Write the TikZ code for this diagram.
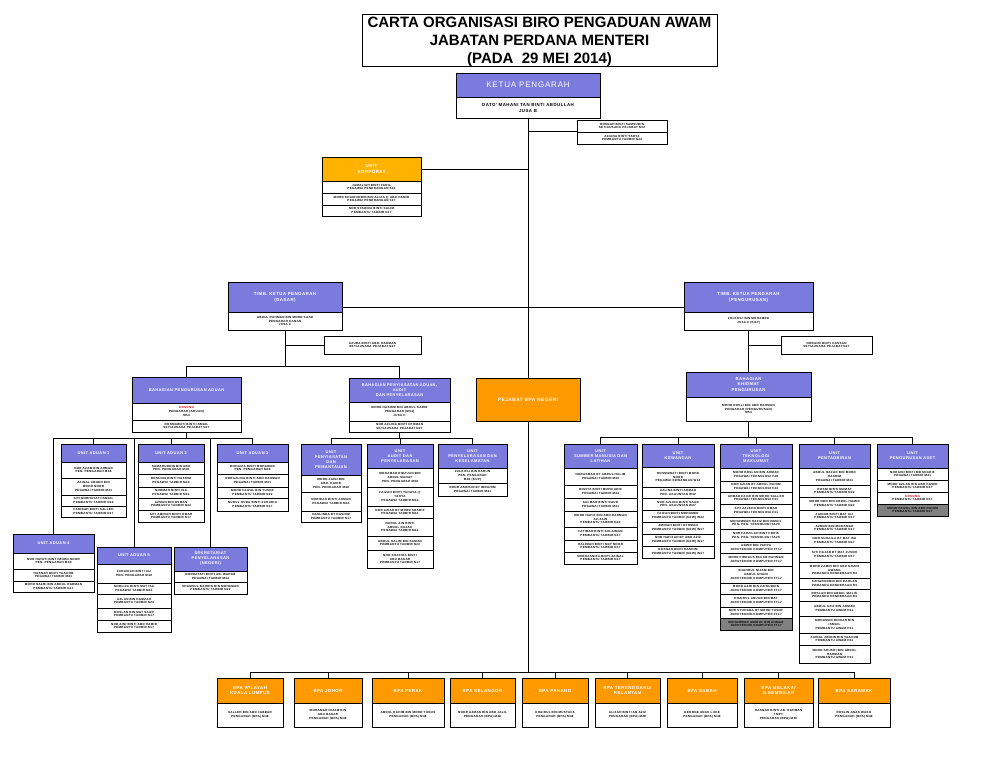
\documentclass[tikz,border=0pt]{standalone}
\usepackage{fontspec}
\setmainfont{Liberation Sans}
\newfontfamily\spc[LetterSpace=10]{Liberation Sans}
\definecolor{pur}{HTML}{7B7BDD}
\definecolor{org}{HTML}{FF9900}
\definecolor{gold}{HTML}{FFB300}
\definecolor{cellgray}{HTML}{808080}
\definecolor{kred}{HTML}{CC0000}
\tikzset{
 hd/.style={draw=black,line width=0.7pt,text=white,align=center,inner sep=0.4pt,font=\spc\bfseries\fontsize{4.0}{5.0}\selectfont},
 rw/.style={draw=black,line width=0.7pt,fill=white,align=center,inner sep=0.3pt,font=\spc\bfseries\fontsize{3.0}{3.8}\selectfont},
 conn/.style={draw=black,line width=0.9pt}
}
\newcommand{\Hd}[7]{\node[hd,#6,minimum width={#4-#2},minimum height={#5-#3}] (#1) at ({(#2+#4)/2},{(#3+#5)/2}) {#7};}
\newcommand{\Rows}[4]{\foreach \ya/\yb/\tx [count=\ii] in {#4} {\node[rw,minimum width={#3-#2},minimum height={\yb-\ya}] (#1r\ii) at ({(#2+#3)/2},{(\ya+\yb)/2}) {\tx};}}
\newcommand{\Rg}[6]{\node[rw,fill=cellgray,minimum width={#4-#2},minimum height={#5-#3}] (#1) at ({(#2+#4)/2},{(#3+#5)/2}) {#6};}
\begin{document}
\begin{tikzpicture}[x=1pt,y=-1pt]
\useasboundingbox[fill=white] (0,0) rectangle (1008,756);
% title
\node[draw,line width=0.8pt,minimum width=355,minimum height=52,inner sep=0pt] (title) at (539.5,40) {};
\node[align=center,inner sep=0pt,font=\bfseries\fontsize{15}{18}\selectfont] (titletext) at (539.5,41.8) {CARTA ORGANISASI BIRO PENGADUAN AWAM\\JABATAN PERDANA MENTERI\\(PADA \ 29 MEI 2014)};
% ketua
\Hd{ketua}{456}{73}{600}{97}{fill=pur,font=\spc\fontsize{8}{9}\selectfont}{KETUA PENGARAH}
\node[rw,minimum width=144,minimum height=21,font=\spc\bfseries\fontsize{4.4}{6}\selectfont] (ketuaR) at (528,107.5) {DATO' MAHANI TAN BINTI ABDULLAH\\JUSA B};
\Rows{side1}{577}{667}{120/132/{ROSNAH BINTI SAMSUDIN\\SETIAUSAHA PEJABAT N32},132/144/{AZIANA BINTI YAHYA\\PEMBANTU TADBIR N22}}
% unit korporat
\Hd{korp}{322}{157}{421}{181}{fill=gold,font=\spc\bfseries\fontsize{4.4}{6}\selectfont}{UNIT\\KORPORAT}
\Rows{korp}{322}{421}{181/193/{JAMALIAH BINTI FADIL\\PEGAWAI PENERANGAN S41},193/205/{MOHD KHAIRUDDIN BIN ALIAS @ ABD HAMID\\PEGAWAI PENERANGAN S27},205/216/{NOR SYAHIDA BINTI SALIM\\PEMBANTU TADBIR N17}}
% TKP dasar
\Hd{dasar}{228}{282}{342}{312}{fill=pur,font=\spc\bfseries\fontsize{4.4}{6}\selectfont}{TIMB. KETUA PENGARAH\\(DASAR)}
\Rows{dasar}{228}{342}{312/330/{ABDUL RAHMAN BIN MOHD SAAD\\PENGARAH KANAN\\JUSA C}}
\Rows{side2}{324}{421}{336/354/{AZURA BINTI ABD. RAHMAN\\SETIAUSAHA PEJABAT N27}}
% TKP pengurusan
\Hd{peng}{684}{282}{813}{312}{fill=pur,font=\spc\bfseries\fontsize{4.4}{6}\selectfont}{TIMB. KETUA PENGARAH\\(PENGURUSAN)}
\Rows{peng}{684}{813}{312/330/{ZULKIFLI BIN MOHAMED\\JUSA C (KUP)}}
\Rows{side3}{781}{872}{336/354/{NORAINI BINTI HASSAN\\SETIAUSAHA PEJABAT N27}}
% bahagian
\Hd{bpa}{132}{377}{241}{403}{fill=pur,font=\spc\bfseries\fontsize{4.0}{5}\selectfont}{BAHAGIAN PENGURUSAN ADUAN}
\Rows{bpa}{132}{241}{403/420/{\textcolor{kred}{KOSONG}\\PENGARAH (ADUAN)\\M54},420/432/{ROSMAWATI BINTI ISMAIL\\SETIAUSAHA PEJABAT N27}}
\Hd{bpm}{349}{378}{450}{402}{fill=pur,font=\spc\bfseries\fontsize{3.9}{5}\selectfont}{BAHAGIAN PENYIASATAN ADUAN,\\AUDIT\\DAN PENYELARASAN}
\Rows{bpm}{349}{450}{402/421/{MOHD HASHIM BIN ABDUL KADIR\\PENGARAH (M54)\\JUSA C},421/432/{NOR AZLINA BINTI OTHMAN\\SETIAUSAHA PEJABAT N27}}
\Hd{pej}{476}{378}{580}{421}{fill=org,font=\spc\bfseries\fontsize{4.8}{6}\selectfont}{PEJABAT BPA NEGERI}
\Hd{bkp}{686}{372}{811}{397}{fill=pur,font=\spc\bfseries\fontsize{4.2}{5.4}\selectfont}{BAHAGIAN\\KHIDMAT\\PENGURUSAN}
\Rows{bkp}{686}{811}{397/421/{MOHD ROSLI BIN ABD RAHMAN\\PENGARAH (PENGURUSAN)\\M54}}
% left units
\Hd{ua1}{61}{444}{126}{462}{fill=pur}{UNIT ADUAN 1}
\Rows{ua1}{61}{126}{462/478/{NOR AZAM BIN AHMAD\\PEN. PENGARAH M48},478/495/{ZAINAL ABIDIN BIN\\MOHD NOOR\\PEGAWAI TADBIR M41},495/506/{SITI NORHAYATI ISMAIL\\PEMBANTU TADBIR N22},506/517/{FARIDAH BINTI SALLEH\\PEMBANTU TADBIR N17}}
\Hd{ua2}{138}{444}{204}{462}{fill=pur}{UNIT ADUAN 2}
\Rows{ua2}{138}{204}{462/474/{KAMARUDDIN BIN ABU\\PEN. PENGARAH M48},474/487/{ROSLINA BINTI HASHIM\\PEGAWAI TADBIR M44},487/498/{NORMAH BINTI ISA\\PEGAWAI TADBIR M41},498/510/{AZMAN BIN OSMAN\\PEMBANTU TADBIR N22},510/522/{SITI AMINAH BINTI OMAR\\PEMBANTU TADBIR N17}}
\Hd{ua3}{217}{444}{288}{462}{fill=pur}{UNIT ADUAN 3}
\Rows{ua3}{217}{288}{462/474/{ROHAIZA BINTI MOHAMAD\\PEN. PENGARAH M48},474/487/{NORAZLINA BINTI ABD RAHMAN\\PEGAWAI TADBIR M41},487/498/{MOHD FAIZAL BIN YUSOF\\PEMBANTU TADBIR N22},498/511/{NURUL HUDA BINTI ZAKARIA\\PEMBANTU TADBIR N17}}
\Hd{ua4}{13}{534}{94}{553}{fill=pur}{UNIT ADUAN 4}
\Rows{ua4}{13}{94}{553/569/{NOR HAYATI BINTI MOHD NOOR\\PEN. PENGARAH M48},569/581/{HASNAH BINTI YAACOB\\PEGAWAI TADBIR M41},581/592/{MOHD NAZRI BIN ABDUL RAHMAN\\PEMBANTU TADBIR N17}}
\Hd{ua5}{97}{547}{171}{564}{fill=pur}{UNIT ADUAN 5}
\Rows{ua5}{97}{171}{564/583/{ZURAIDAH BINTI ALI\\PEN. PENGARAH M48},583/594/{NORLIZA BINTI MAT ISA\\PEGAWAI TADBIR M41},594/608/{AZLAN BIN HAMZAH\\PEMBANTU TADBIR N22},608/620/{ROSLAN BIN MAT SAAD\\PEMBANTU TADBIR N17},620/632/{NOR AINI BINTI ABD HAMID\\PEMBANTU TADBIR N17}}
\Hd{sek}{174}{547}{247}{571}{fill=pur}{SEKRETARIAT\\PENYELARASAN\\(NEGERI)}
\Rows{sek}{174}{247}{571/582/{NORHAYATI BINTI AB. WAHAB\\PEGAWAI TADBIR M44},582/594/{SHAMSUL BAHRIN BIN MOHAMAD\\PEMBANTU TADBIR N22}}
% middle units
\Hd{ma}{301}{444}{361}{475}{fill=pur}{UNIT\\PENYIASATAN\\DAN\\PEMANTAUAN}
\Rows{ma}{301}{361}{475/492/{MOHD ZAINI BIN\\ABD. KADIR\\PEN. PENGARAH M48},492/511/{NORIDAH BINTI AHMAD\\PEGAWAI TADBIR M41},511/522/{HASLINDA BT HASHIM\\PEMBANTU TADBIR N17}}
\Hd{mb}{367}{444}{433}{468}{fill=pur}{UNIT\\AUDIT DAN\\PENYELARASAN}
\Rows{mb}{367}{433}{468/487/{MOHAMAD RIDZUAN BIN\\ABDUL MANAF\\PEN. PENGARAH M48},487/506/{FAIZAH BINTI YAHAYA @\\YAHYA\\PEGAWAI TADBIR M44},506/518/{NOR AZIAH BT MOHD SHARIF\\PEGAWAI TADBIR M41},518/536/{NURUL AIN BINTI\\ABDUL RAZAK\\PEGAWAI TADBIR M41},536/550/{ABDUL HALIM BIN SAMAD\\PEMBANTU TADBIR N22},550/568/{NOR SHAFIKA BINTI\\ABU BAKAR\\PEMBANTU TADBIR N17}}
\Hd{mc}{438}{444}{507}{468}{fill=pur}{UNIT\\PENYELARASAN DAN\\KESELAMATAN}
\Rows{mc}{438}{507}{468/483/{ZULKIFLI BIN HARUN\\PEN. PENGARAH\\M48 (KUP)},483/496/{NOOR ASHIKIN BT IBRAHIM\\PEGAWAI TADBIR M41}}
% right units
\Hd{r1}{564}{444}{637}{468}{fill=pur}{UNIT\\SUMBER MANUSIA DAN\\LATIHAN}
\Rows{r1}{564}{637}{468/485/{NORASMAH BT ABDUL HALIM\\PEGAWAI TADBIR M48},485/498/{ROZITA BINTI MOHD ARIF\\PEGAWAI TADBIR M44},498/511/{SALMAH BINTI DAUD\\PEGAWAI TADBIR M41},511/527/{MOHD HAFIZ BIN ABD RAHMAN\\AZ-ZAIN\\PEMBANTU TADBIR N22},527/540/{FATIMAH BINTI SULAIMAN\\PEMBANTU TADBIR N17},540/552/{HALIMAH BINTI MAT NOOR\\PEMBANTU TADBIR N17},552/564/{NORHASNIZA BINTI ZAINAL\\PEMBANTU TADBIR N17}}
\Hd{r2}{642}{444}{714}{467}{fill=pur}{UNIT\\KEWANGAN}
\Rows{r2}{642}{714}{467/487/{ROSMAWATI BINTI MOHD\\NOOR\\PEGAWAI KEWANGAN W44},487/498/{AZLINA BINTI AHMAD\\PEN. AKAUNTAN W32},498/510/{NOR AZLINA BINTI SAAD\\PEN. AKAUNTAN W27},510/522/{FAIZAH BINTI MOHAMED\\PEMBANTU TADBIR (KEW) W22},522/534/{AMINAH BINTI OTHMAN\\PEMBANTU TADBIR (KEW) W17},534/546/{NOR HAFIZAH BT ABD AZIZ\\PEMBANTU TADBIR (KEW) W17},546/558/{ROSNAH BINTI HASHIM\\PEMBANTU TADBIR (KEW) W17}}
\Hd{r3}{720}{444}{792}{468}{fill=pur}{UNIT\\TEKNOLOGI\\MAKLUMAT}
\Rows{r3}{720}{792}{468/481/{MOHD ROSLAN BIN AHMAD\\PEGAWAI TEKNOLOGI F48},481/492/{NOR AZIAN BT ABDUL RAHIM\\PEGAWAI TEKNOLOGI F44},492/504/{AHMAD FAUZI BIN MOHD SALLEH\\PEGAWAI TEKNOLOGI F41},504/517/{SITI ZALEHA BINTI OMAR\\PEGAWAI TEKNOLOGI F41},517/529/{MUHAMMAD HAFIZ BIN ISMAIL\\PEN. PEG. TEKNOLOGI FA29},529/542/{NOR FADZILAH BINTI IDRIS\\PEN. PEG. TEKNOLOGI FA29},542/553/{AZMIR BIN YAHYA\\JURUTEKNIK KOMPUTER FT17},553/566/{MOHD FIRDAUS BIN AB RAHMAN\\JURUTEKNIK KOMPUTER FT17},566/583/{SHAHRUL NIZAM BIN\\ABDUL GHANI\\JURUTEKNIK KOMPUTER FT17},583/594/{MOHD AZRI BIN ZAINUDDIN\\JURUTEKNIK KOMPUTER FT17},594/607/{KHAIRUL ANUAR BIN MAT\\JURUTEKNIK KOMPUTER FT17},607/618/{NOR SYUHADA BT MOHD YUSOF\\JURUTEKNIK KOMPUTER FT17}}
\Rg{r3g}{720}{618}{792}{630}{MUHAMMAD AMIRUL BIN AHMAD\\JURUTEKNIK KOMPUTER FT17}
\Hd{r4}{799}{444}{870}{468}{fill=pur}{UNIT\\PENTADBIRAN}
\Rows{r4}{799}{870}{468/485/{ABDUL RAZAK BIN MOHD\\HASHIM\\PEGAWAI TADBIR M41},485/497/{ROSNI BINTI MAMAT\\PEMBANTU TADBIR N22},497/510/{MOHD NOR BIN ABDUL HAMID\\PEMBANTU TADBIR N22},510/522/{ZAINAB BINTI MAT ALI\\PEMBANTU TADBIR N17},522/534/{AZMAN BIN MOHAMAD\\PEMBANTU TADBIR N17},534/547/{NOR SUHAILA BT MAT ISA\\PEMBANTU TADBIR N17},547/562/{SITI HAJAR BT MAT JUSOH\\PEMBANTU TADBIR N17},562/578/{MOHD ZAMRI BIN ABD GHANI\\AWANG\\PEMANDU KENDERAAN R3},578/589/{SAHARUDDIN BIN DAHLAN\\PEMANDU KENDERAAN R3},589/601/{ROSLAN BIN ABDUL MALIK\\PEMANDU KENDERAAN R3},601/616/{ABDUL AZIZ BIN AHMAD\\PEMBANTU AWAM H11},616/633/{MOHAMAD RIDUAN BIN\\ISMAIL\\PEMBANTU AWAM H11},633/645/{ZAINAL ABIDIN BIN YAACOB\\PEMBANTU AWAM H11},645/663/{MOHD SHUKRI BIN ABDUL\\RAHMAN\\PEMBANTU AWAM H11}}
\Hd{r5}{877}{444}{948}{468}{fill=pur}{UNIT\\PENGURUSAN ASET}
\Rows{r5}{877}{948}{468/480/{NORAINI BINTI MD SHARIF\\PEGAWAI TADBIR M41},480/492/{MOHD AZLAN BIN ABD HAMID\\PEMBANTU TADBIR N17},492/504/{\textcolor{kred}{KOSONG}\\PEMBANTU TADBIR N17}}
\Rg{r5g}{877}{504}{948}{516}{MOHD FAIZAL BIN ABD RAHIM\\PEMBANTU TADBIR N17}
% bottom state offices
\tikzset{bh/.style={fill=org,font=\spc\bfseries\fontsize{4.4}{5.6}\selectfont}}
\Hd{b1}{217}{678}{283}{703}{bh}{BPA WILAYAH\\KUALA LUMPUR}
\Rows{b1}{217}{283}{703/727/{SALLEH BIN ABD JABBAR\\PENGARAH (BPA) M48}}
\Hd{b2}{294}{678}{362}{703}{bh}{BPA JOHOR}
\Rows{b2}{294}{362}{703/727/{MOHAMAD NIZAM BIN\\ABU BAKAR\\PENGARAH (BPA) M48}}
\Hd{b3}{372}{678}{444}{703}{bh}{BPA PERAK}
\Rows{b3}{372}{444}{703/727/{ABDUL RAHIM BIN MOHD YUNUS\\PENGARAH (BPA) M48}}
\Hd{b4}{450}{678}{515}{703}{bh}{BPA SELANGOR}
\Rows{b4}{450}{515}{703/727/{NOOR AZMAN BIN ABD JALIL\\PENGARAH (BPA) M48}}
\Hd{b5}{522}{678}{588}{703}{bh}{BPA PAHANG}
\Rows{b5}{522}{588}{703/727/{KHAIRUL BIN MUSTAFA\\PENGARAH (BPA) M48}}
\Hd{b6}{595}{678}{660}{703}{bh}{BPA TERENGGANU/\\KELANTAN}
\Rows{b6}{595}{660}{703/727/{ALIZAH BINTI AB AZIZ\\PENGARAH (BPA) M48}}
\Hd{b7}{667}{678}{737}{703}{bh}{BPA SABAH}
\Rows{b7}{667}{737}{703/727/{GEORGE ANAK LUKE\\PENGARAH (BPA) M48}}
\Hd{b8}{744}{678}{813}{703}{bh}{BPA MELAKA/\\N.SEMBILAN}
\Rows{b8}{744}{813}{703/727/{HASNAH BINTI AB. RAHMAN\\TMPT\\PENGARAH (BPA) M48}}
\Hd{b9}{818}{678}{890}{703}{bh}{BPA SARAWAK}
\Rows{b9}{818}{890}{703/727/{ROSLIN ANAK WAKO\\PENGARAH (BPA) M48}}
% ---------- connectors
\coordinate (botbus) at (528,672);
\coordinate (tbus) at (528,307);
\coordinate (lmbus) at (0,366);
\coordinate (lbus) at (0,438);
\coordinate (rbus) at (0,437);
\draw[conn] (ketuaR.south) -- (pej.north);
\draw[conn] (pej.south) -- (botbus);
\draw[conn] (side1r2.north west) -- (side1r2.north west -| ketuaR.south);
\draw[conn] (korp.east) -- (korp.east -| ketuaR.south);
\draw[conn] (dasar.east |- tbus) -- (peng.west |- tbus);
\draw[conn] (dasarr1.south) -- (dasarr1.south |- lmbus);
\draw[conn] (side2r1.west) -- (side2r1.west -| dasarr1.south);
\draw[conn] (bpa.north) -- (bpa.north |- lmbus) -- (bpm.north |- lmbus) -- (bpm.north);
\draw[conn] (pengr1.south) -- (bkp.north);
\draw[conn] (side3r1.west) -- (side3r1.west -| pengr1.south);
\draw[conn] (bpar2.south) -- (bpar2.south |- lbus);
\draw[conn] (ua4.north) -- (ua4.north |- lbus) -- (ua3.north |- lbus) -- (ua3.north);
\foreach \n in {ua1,ua2,ua5,sek} \draw[conn] (\n.north) -- (\n.north |- lbus);
\draw[conn] (bpmr2.south) -- (bpmr2.south |- lbus);
\draw[conn] (ma.north) -- (ma.north |- lbus) -- (mc.north |- lbus) -- (mc.north);
\draw[conn] (mb.north) -- (mb.north |- lbus);
\draw[conn] (bkpr1.south) -- (bkpr1.south |- rbus);
\draw[conn] (r1.north) -- (r1.north |- rbus) -- (r5.north |- rbus) -- (r5.north);
\foreach \n in {r2,r3,r4} \draw[conn] (\n.north) -- (\n.north |- rbus);
\draw[conn] (b1.north) -- (b1.north |- botbus) -- (b9.north |- botbus) -- (b9.north);
\foreach \n in {b2,b3,b4,b5,b6,b7,b8} \draw[conn] (\n.north) -- (\n.north |- botbus);
\end{tikzpicture}
\end{document}
